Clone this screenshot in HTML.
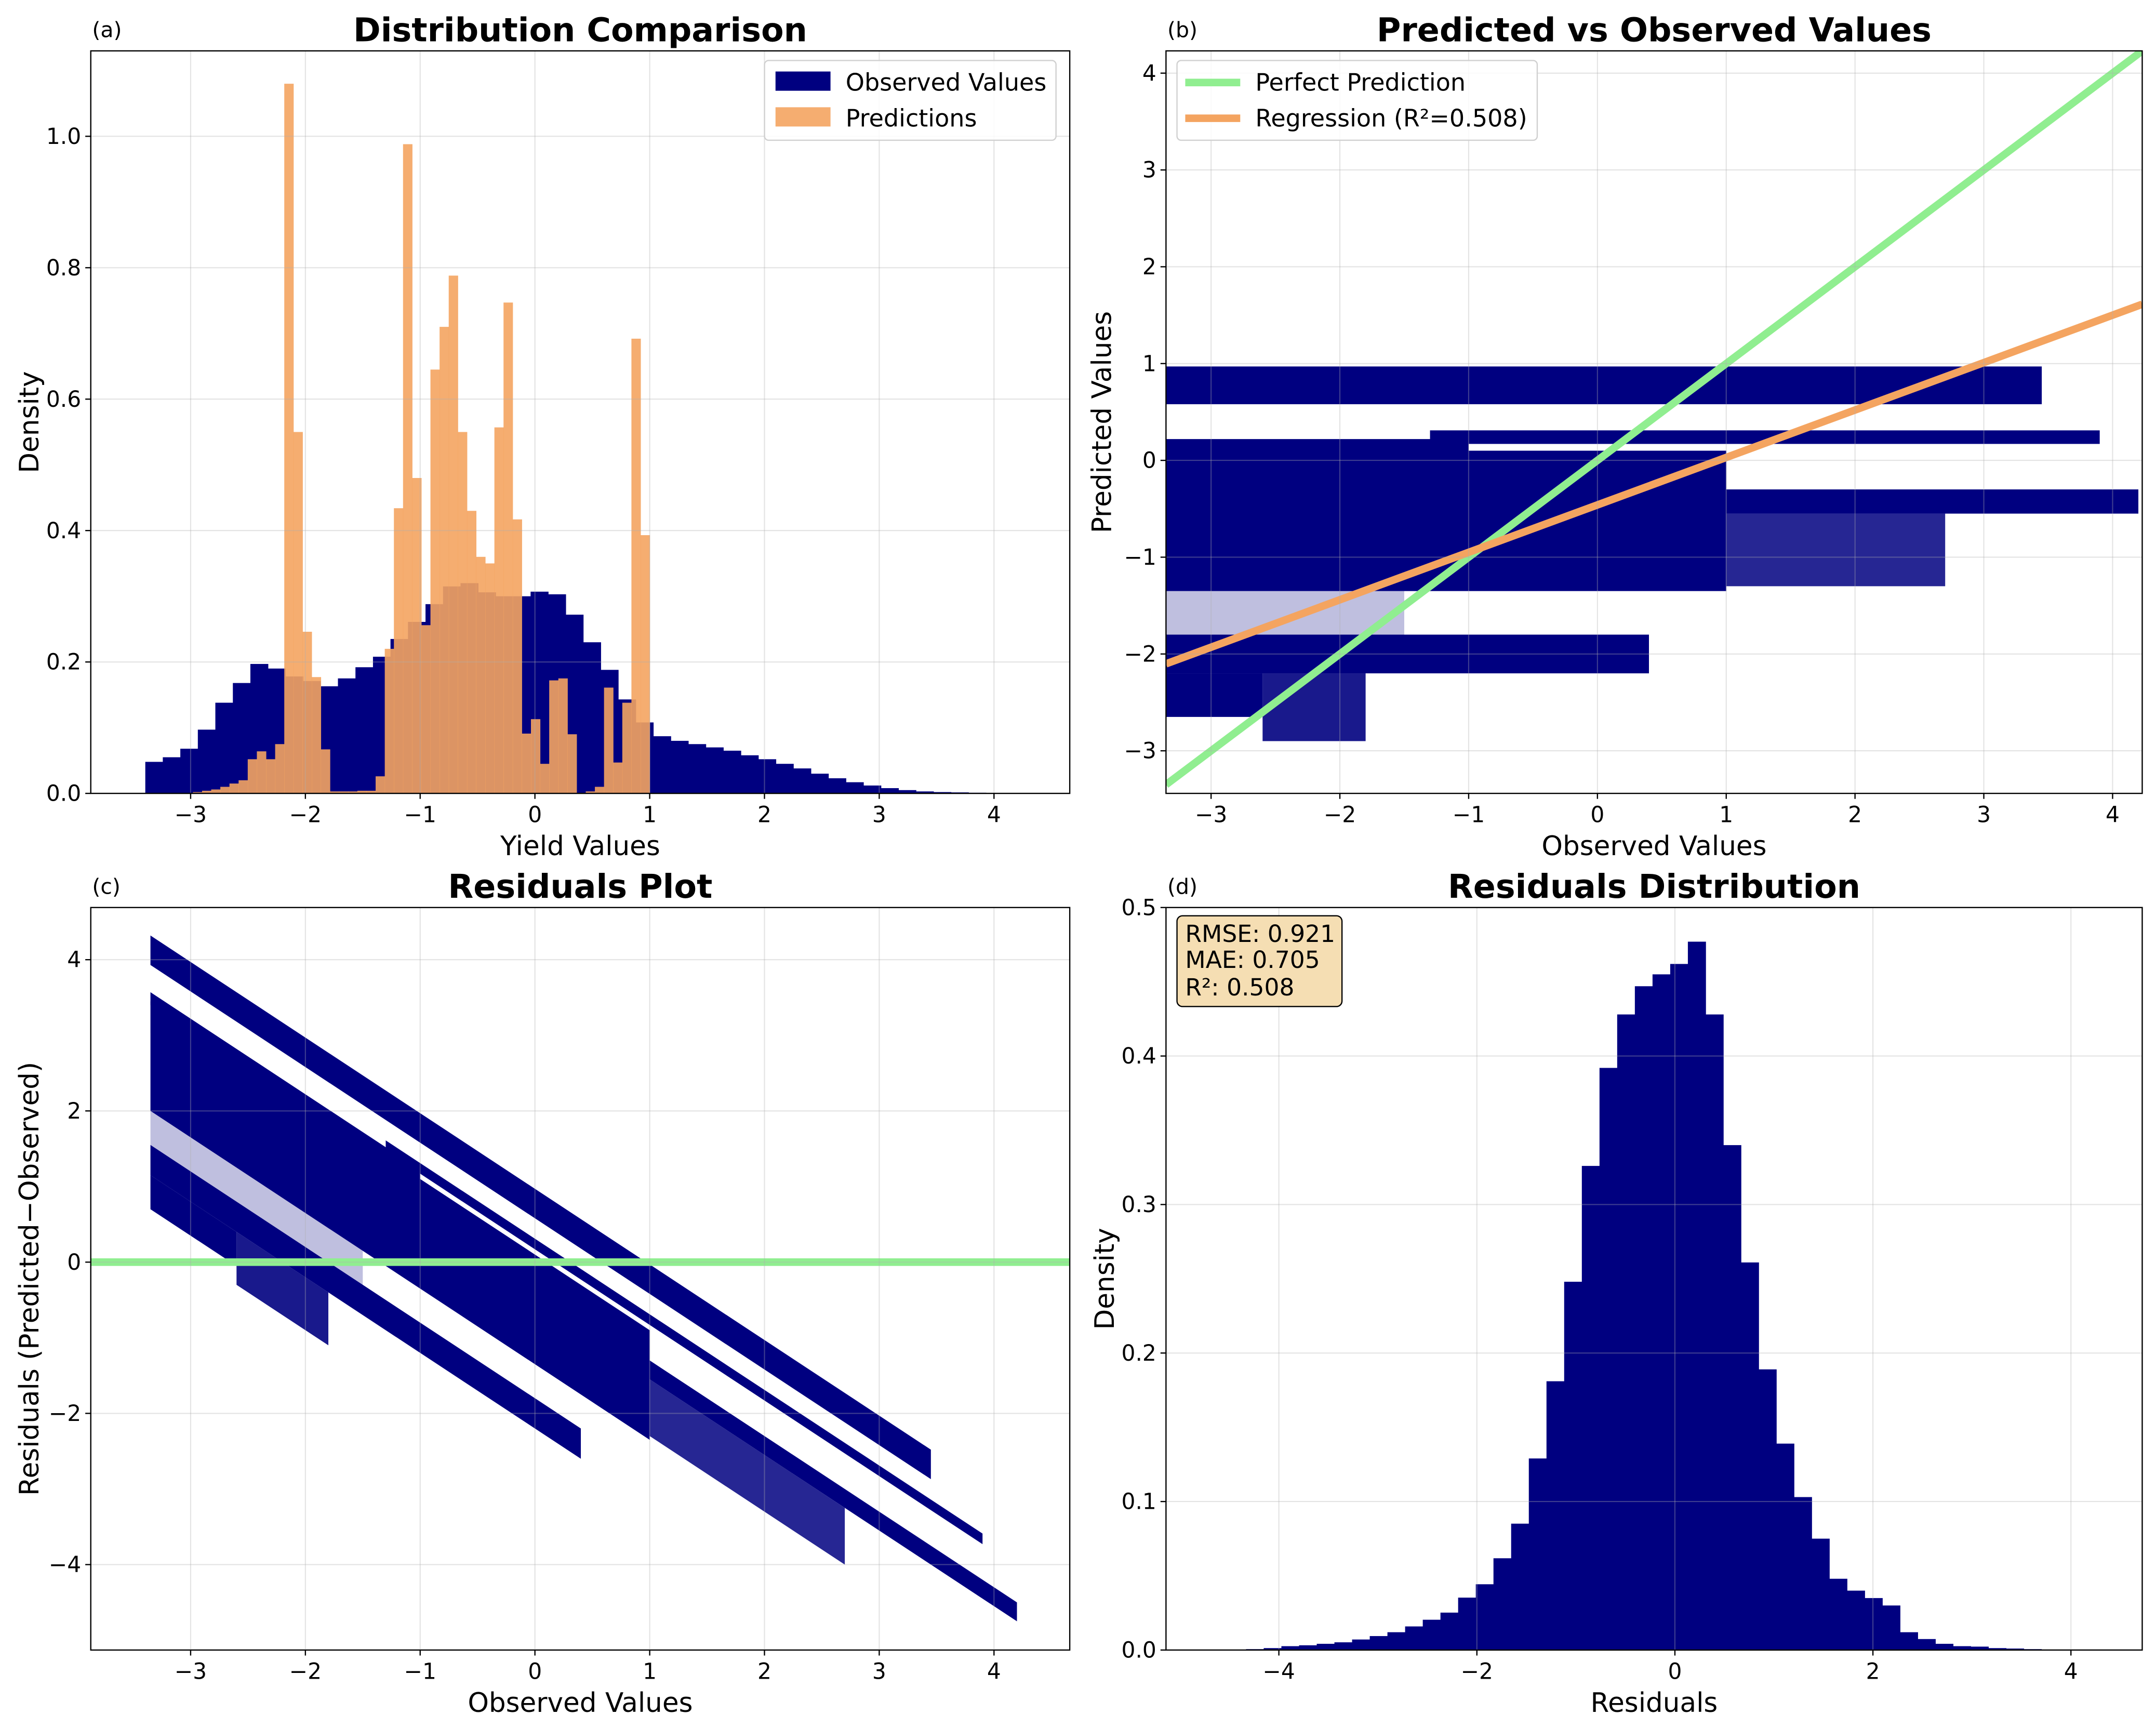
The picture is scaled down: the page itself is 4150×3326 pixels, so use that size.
<!DOCTYPE html>
<html><head><meta charset="utf-8"><style>
html,body{margin:0;padding:0;background:#fff;}
svg{display:block;}
text{font-family:"DejaVu Sans","Liberation Sans",sans-serif;fill:#000;}
</style></head>
<body>
<svg id="fig" xmlns="http://www.w3.org/2000/svg" width="4150" height="3326" viewBox="0 0 1568 1256.7"></svg>
<script>
// ---- Panel (a) data ----
const obsStart = -3.395, obsWidth = 0.1526;
const obsDensity = [0.048,0.055,0.068,0.097,0.138,0.168,0.197,0.19,0.178,0.171,0.163,0.175,0.192,0.208,0.235,0.261,0.288,0.315,0.32,0.306,0.30,0.30,0.307,0.303,0.272,0.23,0.188,0.143,0.108,0.087,0.08,0.075,0.07,0.065,0.058,0.052,0.045,0.038,0.03,0.023,0.017,0.012,0.008,0.005,0.003,0.002,0.0015,0.001,0.0007,0.0004];
const predStart = -2.98, predWidth = 0.0796;
const predDensity = [0.002,0.004,0.006,0.01,0.015,0.02,0.052,0.064,0.052,0.075,1.08,0.55,0.246,0.177,0.067,0.003,0.003,0.003,0.004,0.004,0.026,0.22,0.434,0.988,0.48,0.256,0.645,0.71,0.788,0.55,0.43,0.36,0.35,0.557,0.747,0.417,0.091,0.113,0.045,0.172,0.175,0.09,0.0,0.003,0.01,0.161,0.047,0.138,0.692,0.393];
// ---- Panel (b)/(c) data: point-cloud bands ----
const bandObsMin  = [-3.35,-1.3,-3.35,-3.35,1.0,1.0,-3.35,-3.35,-2.6,-3.35];
const bandObsMax  = [3.45,3.9,-1.0,1.0,2.7,4.2,0.4,-2.6,-1.8,-1.5];
const bandPredMin = [0.58,0.17,0.05,-1.35,-1.3,-0.55,-2.2,-2.65,-2.9,-1.8];
const bandPredMax = [0.97,0.31,0.22,0.1,-0.55,-0.3,-1.8,-2.2,-2.2,-1.35];
const bandDensity = [1,1,1,1,0.85,1,1,1,0.9,0.25];
const regSlope = 0.49, regIntercept = -0.46;
// ---- Panel (d) data ----
const resStart = -4.51, resWidth = 0.1785;
const resDensity = [0.0003,0.0006,0.0013,0.0026,0.0032,0.0042,0.0052,0.0071,0.0094,0.012,0.0159,0.0204,0.0252,0.0353,0.0443,0.0618,0.0851,0.129,0.181,0.248,0.326,0.392,0.428,0.447,0.455,0.462,0.477,0.428,0.34,0.261,0.189,0.139,0.103,0.075,0.048,0.04,0.035,0.03,0.012,0.0074,0.0042,0.0026,0.0023,0.0013,0.001,0.0006,0.0003,0.0002];
// tick labels
const ticksA_x = [-3,-2,-1,0,1,2,3,4];
const ticksA_y = [0,0.2,0.4,0.6,0.8,1.0];
const ticksB_x = [-3,-2,-1,0,1,2,3,4];
const ticksB_y = [-3,-2,-1,0,1,2,3,4];
const ticksC_x = [-3,-2,-1,0,1,2,3,4];
const ticksC_y = [-4,-2,0,2,4];
const ticksD_x = [-4,-2,0,2,4];
const ticksD_y = [0,0.1,0.2,0.3,0.4,0.5];

const NS="http://www.w3.org/2000/svg";
const svg=document.getElementById('fig');
function mk(tag,attrs,parent){const e=document.createElementNS(NS,tag);for(const k in attrs)e.setAttribute(k,attrs[k]);(parent||svg).appendChild(e);return e;}
function txt(s,attrs,parent){const e=mk('text',attrs,parent);e.textContent=s;return e;}
function fmt(v,dec){let s=v.toFixed(dec);return s.replace('-','\u2212');}

function panel(p){
  const g=mk('g',{});
  
  
  const sx=v=>p.px0+(v-p.x0)/(p.x1-p.x0)*(p.px1-p.px0);
  const sy=v=>p.py1-(v-p.y0)/(p.y1-p.y0)*(p.py1-p.py0);
  const cid='clip'+p.name;
  const cp=mk('clipPath',{id:cid},g);mk('rect',{x:p.px0,y:p.py0,width:p.px1-p.px0,height:p.py1-p.py0},cp);
  const data=mk('g',{'clip-path':'url(#'+cid+')'},g);
  
  
  return {g,data,sx,sy,p};
}
function finish(P,xt,yt,xdec,ydec,title,xl,yl,lab){
  const {g,sx,sy,p}=P;
  const grid=mk('g',{stroke:'#b0b0b0','stroke-opacity':0.35,'stroke-width':0.8},g);
  
  
  xt.forEach(v=>mk('line',{x1:sx(v),x2:sx(v),y1:p.py0,y2:p.py1},grid));
  yt.forEach(v=>mk('line',{x1:p.px0,x2:p.px1,y1:sy(v),y2:sy(v)},grid));
  const fr=mk('rect',{x:p.px0,y:p.py0,width:p.px1-p.px0,height:p.py1-p.py0,fill:'none',stroke:'#000','stroke-width':0.9},g);
  
  
  xt.forEach(v=>{mk('line',{x1:sx(v),x2:sx(v),y1:p.py1,y2:p.py1+4,stroke:'#000','stroke-width':0.9},g);
    const t=txt(fmt(v,xdec),{x:sx(v),y:p.py1+21,'font-size':16,'text-anchor':'middle'},g);
    
    });
  yt.forEach(v=>{mk('line',{x1:p.px0-4,x2:p.px0,y1:sy(v),y2:sy(v),stroke:'#000','stroke-width':0.9},g);
    const t=txt(fmt(v,ydec),{x:p.px0-7,y:sy(v)+5.5,'font-size':16,'text-anchor':'end'},g);
    
    });
  const cx=(p.px0+p.px1)/2, cy=(p.py0+p.py1)/2;
  const tt=txt(title,{x:cx,y:p.py0-7,'font-size':24,'font-weight':'bold','text-anchor':'middle'},g);
  
  
  const xa=txt(xl,{x:cx,y:p.py1+45,'font-size':19.5,'text-anchor':'middle'},g);
  
  
  const ya=txt(yl,{x:0,y:0,'font-size':19.5,'text-anchor':'middle',transform:'translate('+(p.px0-p.ylabOff)+','+cy+') rotate(-90)'},g);
  
  
  const pl=txt(lab,{x:p.px0+1,y:p.py0-10,'font-size':15.5},g);
  
  
}

// ===== Panel A =====
const A=panel({name:'panel-a',x0:-3.87,x1:4.66,y0:0,y1:1.13,px0:66,px1:778,py0:37,py1:577,ylabOff:38});
obsDensity.forEach((d,i)=>{const x=obsStart+i*obsWidth;
  const r=mk('rect',{x:A.sx(x),y:A.sy(d),width:A.sx(x+obsWidth)-A.sx(x)+0.3,height:A.sy(0)-A.sy(d),fill:'#000080'},A.data);
  
  });
predDensity.forEach((d,i)=>{const x=predStart+i*predWidth;
  const r=mk('rect',{x:A.sx(x),y:A.sy(d),width:A.sx(x+predWidth)-A.sx(x)+0.2,height:A.sy(0)-A.sy(d),fill:'#f4a460','fill-opacity':0.9},A.data);
  
  });
finish(A,ticksA_x,ticksA_y,0,1,'Distribution Comparison','Yield Values','Density','(a)');
(function(){const lg=mk('g',{},A.g);
  
  
  mk('rect',{x:556,y:44,width:212,height:58,rx:3,fill:'#fff','fill-opacity':0.85,stroke:'#d0d0d0','stroke-width':0.9},lg);
  const e1=mk('g',{},lg);
  mk('rect',{x:564,y:52,width:40,height:14,fill:'#000080'},e1);
  txt('Observed Values',{x:615,y:66,'font-size':17.4},e1);
  const e2=mk('g',{},lg);
  mk('rect',{x:564,y:78,width:40,height:14,fill:'#f4a460','fill-opacity':0.9},e2);
  txt('Predictions',{x:615,y:92,'font-size':17.4},e2);
})();

// ===== Panel B =====
const B=panel({name:'panel-b',x0:-3.35,x1:4.23,y0:-3.44,y1:4.23,px0:848,px1:1558,py0:37,py1:577,ylabOff:40});
bandObsMin.forEach((x1,i)=>{const x2=bandObsMax[i],p1=bandPredMin[i],p2=bandPredMax[i];
  const r=mk('rect',{x:B.sx(x1),y:B.sy(p2),width:B.sx(x2)-B.sx(x1),height:B.sy(p1)-B.sy(p2),fill:'#000080','fill-opacity':bandDensity[i]},B.data);
  
  });
(function(){const gl=mk('line',{x1:B.sx(-3.35),y1:B.sy(-3.35),x2:B.sx(4.23),y2:B.sy(4.23),stroke:'#90ee90','stroke-width':5.5},B.data);
  
  const ol=mk('line',{x1:B.sx(-3.35),y1:B.sy(regIntercept+regSlope*-3.35),x2:B.sx(4.23),y2:B.sy(regIntercept+regSlope*4.23),stroke:'#f4a460','stroke-width':5.5},B.data);
  })();
finish(B,ticksB_x,ticksB_y,0,0,'Predicted vs Observed Values','Observed Values','Predicted Values','(b)');
(function(){const lg=mk('g',{},B.g);
  
  
  mk('rect',{x:856,y:44,width:262,height:58,rx:3,fill:'#fff','fill-opacity':0.85,stroke:'#d0d0d0','stroke-width':0.9},lg);
  const e1=mk('g',{},lg);
  mk('line',{x1:862,x2:902,y1:60,y2:60,stroke:'#90ee90','stroke-width':5.5},e1);
  txt('Perfect Prediction',{x:913,y:66,'font-size':17.4},e1);
  const e2=mk('g',{},lg);
  mk('line',{x1:862,x2:902,y1:86,y2:86,stroke:'#f4a460','stroke-width':5.5},e2);
  txt('Regression (R\u00b2=0.508)',{x:913,y:92,'font-size':17.4},e2);
})();

// ===== Panel C =====
const C=panel({name:'panel-c',x0:-3.87,x1:4.66,y0:-5.13,y1:4.69,px0:66,px1:778,py0:660,py1:1200,ylabOff:38});
bandObsMin.forEach((x1,i)=>{const x2=bandObsMax[i],p1=bandPredMin[i],p2=bandPredMax[i];
  const pts=[[x1,p1-x1],[x2,p1-x2],[x2,p2-x2],[x1,p2-x1]].map(q=>C.sx(q[0])+','+C.sy(q[1])).join(' ');
  const r=mk('polygon',{points:pts,fill:'#000080','fill-opacity':bandDensity[i]},C.data);
  
  });
(function(){const l=mk('line',{x1:C.p.px0,x2:C.p.px1,y1:C.sy(0),y2:C.sy(0),stroke:'#90ee90','stroke-width':5.5},C.data);
  })();
finish(C,ticksC_x,ticksC_y,0,0,'Residuals Plot','Observed Values','Residuals (Predicted\u2212Observed)','(c)');

// ===== Panel D =====
const D=panel({name:'panel-d',x0:-5.14,x1:4.72,y0:0,y1:0.5,px0:848,px1:1558,py0:660,py1:1200,ylabOff:38});
resDensity.forEach((d,i)=>{const x=resStart+i*resWidth;
  const r=mk('rect',{x:D.sx(x),y:D.sy(d),width:D.sx(x+resWidth)-D.sx(x)+0.3,height:D.sy(0)-D.sy(d),fill:'#000080'},D.data);
  
  });
finish(D,ticksD_x,ticksD_y,0,1,'Residuals Distribution','Residuals','Density','(d)');
(function(){const tb=mk('g',{},D.g);
  
  
  mk('rect',{x:856,y:666,width:120,height:66,rx:4,fill:'#f5deb3',stroke:'#000','stroke-width':0.9},tb);
  txt('RMSE: 0.921',{x:862,y:685,'font-size':17.2},tb);
  txt('MAE: 0.705',{x:862,y:704,'font-size':17.2},tb);
  txt('R\u00b2: 0.508',{x:862,y:724,'font-size':17.2},tb);
})();
</script>
</body></html>
